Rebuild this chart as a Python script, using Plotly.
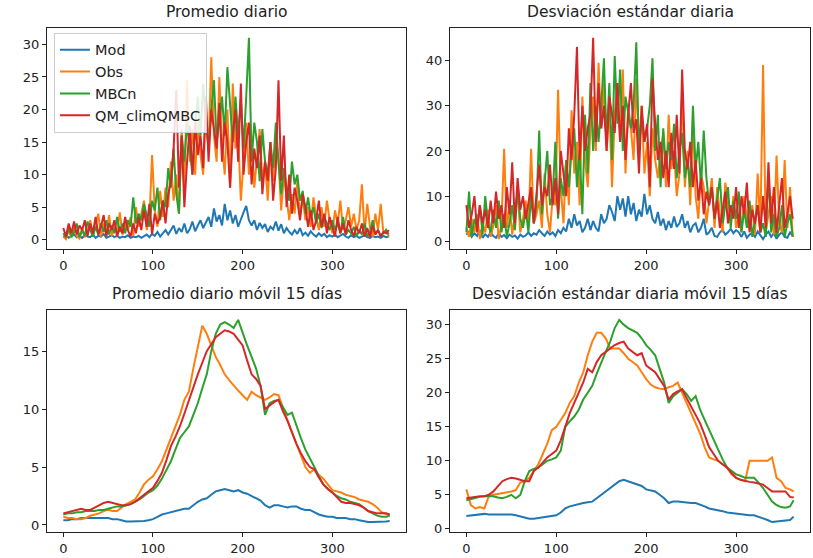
import plotly.graph_objects as go

W, H = 813, 558

# ---------------- data ----------------
series_names = ["Mod", "Obs", "MBCn", "QM_climQMBC"]
colors = ["#1f77b4", "#ff7f0e", "#2ca02c", "#d62728"]
x_ticks = [0, 100, 200, 300]

# top panels: days sampled every 3 days (0..363)
days_top = list(range(0, 364, 3))

mean_mod = [0.4,0.7,0.3,0.5,0.8,0.4,0.6,0.3,0.7,0.5,
            0.4,0.8,0.3,0.6,0.5,0.9,0.3,0.5,0.7,0.4,
            0.6,0.3,0.5,0.4,0.7,0.3,0.5,0.4,0.6,0.3,
            0.5,0.8,0.4,0.9,0.6,1.2,0.5,1.0,1.5,0.8,
            1.4,2.2,0.9,1.8,1.2,2.5,1.0,1.6,2.8,1.3,
            2.2,3.0,1.8,2.6,3.5,2.0,4.8,2.8,3.8,2.2,
            5.5,3.0,4.5,2.5,3.8,2.0,3.2,4.2,5.2,3.0,
            2.2,3.0,1.5,2.6,1.8,2.4,1.2,2.0,1.6,2.8,
            1.4,2.4,1.0,1.8,1.2,0.8,1.5,0.9,1.8,0.7,
            1.1,0.6,1.3,0.8,0.5,1.0,0.6,0.9,0.4,0.7,
            0.5,0.8,0.4,0.6,0.9,0.5,0.3,0.7,0.4,0.6,
            0.3,0.5,0.7,0.4,0.3,0.6,0.4,0.5,0.3,0.6,
            0.4,0.5]
mean_obs = [0.5,0.1,1.5,0.3,2.2,0.6,0.2,1.8,0.4,1.2,
            3.0,0.8,2.2,4.0,0.5,2.5,1.0,3.8,0.6,2.0,
            1.2,4.2,0.8,2.5,1.5,3.5,0.6,5.0,2.0,4.0,
            6.0,1.5,3.0,13.0,4.5,2.0,7.5,3.5,8.0,5.0,
            12.0,6.0,10.0,4.0,17.0,8.0,24.5,12.0,17.0,10.0,
            18.0,13.0,10.0,20.0,14.0,28.0,16.0,12.0,25.0,15.0,
            10.0,20.0,8.0,24.0,14.0,16.0,6.0,12.0,18.0,10.0,
            16.0,8.0,13.0,17.0,9.0,12.0,6.0,14.0,9.0,16.0,
            12.0,4.5,10.0,6.0,3.0,7.0,4.0,9.0,3.5,6.5,
            3.0,5.0,2.0,6.5,3.5,1.5,5.0,2.0,6.0,3.0,
            1.0,4.5,2.5,6.0,1.5,3.0,5.0,2.0,4.0,1.5,
            3.0,8.5,1.0,5.5,2.0,0.5,4.0,1.5,5.5,1.0,
            1.5,0.5]
mean_mbcn = [1.0,0.3,1.8,0.5,1.2,2.5,0.4,1.5,0.6,2.8,
             1.5,0.5,2.0,0.8,2.5,1.2,3.0,0.8,2.2,1.0,
             3.5,1.2,2.5,1.0,3.0,2.0,6.5,2.5,4.0,3.0,
             5.5,3.5,2.0,6.0,4.5,8.0,3.0,6.0,5.0,11.0,
             8.0,14.0,7.0,4.0,16.0,12.0,18.0,14.0,10.0,17.0,
             22.0,16.0,24.0,18.0,14.0,20.0,24.5,15.0,18.0,22.0,
             16.0,26.5,20.0,15.0,22.0,16.0,21.5,14.0,22.0,31.0,
             12.0,18.0,15.0,9.0,17.0,12.0,10.0,15.0,11.0,18.0,
             12.0,7.0,11.0,8.0,6.0,12.0,8.5,10.0,6.0,7.5,
             4.0,6.5,3.5,5.0,2.5,4.0,1.8,3.5,2.5,1.5,
             3.0,1.5,2.5,1.0,3.5,0.8,1.5,1.0,2.0,0.5,
             1.5,0.8,2.5,0.5,1.2,3.0,0.8,1.5,0.6,1.0,
             1.5,0.8]
mean_qm = [1.8,0.5,2.5,1.0,2.8,0.8,2.2,1.5,3.0,0.6,
           2.5,1.0,3.5,0.8,2.0,3.8,0.5,2.5,1.5,3.0,
           0.5,2.0,1.0,3.5,1.5,0.5,2.5,1.0,3.5,1.5,
           4.5,2.0,5.5,0.8,4.0,2.5,3.5,6.0,2.5,7.0,
           9.0,14.0,23.0,8.0,16.0,5.0,12.0,17.5,10.0,18.0,
           13.0,16.0,11.0,22.0,12.0,20.0,17.0,14.0,21.0,12.0,
           18.0,15.0,8.0,16.0,20.0,12.0,24.0,10.0,15.0,18.0,
           8.5,14.0,11.0,16.0,7.0,12.0,9.0,15.0,6.0,11.0,
           24.5,9.0,16.0,5.0,10.0,4.0,8.0,6.0,3.0,7.0,
           5.0,2.0,4.5,1.5,3.0,6.0,2.0,4.0,1.0,3.5,
           2.0,0.5,3.5,1.0,2.5,0.8,3.0,1.5,0.6,2.0,
           1.0,2.5,0.5,1.8,0.4,2.2,0.8,1.5,0.5,1.2,
           1.0,1.5]

std_mod = [1.5,2.2,1.0,1.8,1.2,2.5,0.8,1.6,1.0,2.0,
           1.2,0.8,1.8,1.0,1.4,0.7,1.5,1.0,1.3,0.6,
           1.5,1.0,1.3,2.0,1.2,1.8,1.5,2.5,1.8,1.2,
           2.2,1.5,2.0,1.2,2.5,1.8,3.0,2.2,5.0,3.0,
           6.0,3.5,4.5,2.0,3.0,5.0,2.5,4.5,3.0,2.2,
           6.0,4.0,5.0,8.0,6.5,4.5,10.0,7.0,9.5,5.5,
           10.0,6.0,8.5,4.5,7.0,5.5,10.5,6.0,8.0,5.0,
           4.0,6.5,3.5,5.0,2.5,4.5,3.0,5.5,3.2,4.0,
           6.0,3.0,4.5,2.0,3.5,4.0,2.0,3.0,5.0,1.5,
           2.0,3.0,1.2,1.0,2.0,2.5,1.5,2.0,2.8,1.8,
           2.5,2.0,1.0,2.2,0.8,1.5,1.8,1.0,2.2,1.2,
           0.5,1.5,2.2,1.0,1.8,0.6,1.5,2.0,1.0,0.8,
           2.0,1.2]
std_obs = [3.0,1.0,5.0,2.0,6.0,0.5,4.0,2.0,7.0,1.0,
           3.5,8.0,0.5,4.0,20.5,3.0,8.0,1.5,6.0,11.0,
           2.0,5.0,9.0,3.5,20.5,4.0,6.0,9.0,3.0,15.0,
           6.0,2.0,10.0,8.0,33.5,12.0,4.0,18.0,8.0,29.0,
           15.0,22.0,8.0,32.0,18.0,12.0,25.0,32.0,20.0,39.5,
           25.0,35.0,20.0,30.0,12.0,28.0,35.0,22.0,38.0,15.0,
           30.0,25.0,18.0,36.0,20.0,30.0,15.0,22.0,10.0,25.0,
           18.0,14.0,20.0,24.0,12.0,28.0,16.0,20.0,10.0,15.0,
           33.0,12.0,20.0,8.0,27.0,10.0,5.0,15.0,12.0,4.0,
           9.0,14.0,3.0,12.0,6.0,2.0,13.0,8.0,4.0,10.0,
           3.0,6.0,2.0,10.0,5.0,2.5,8.0,1.5,15.0,3.0,
           39.0,2.0,6.0,10.0,1.5,19.0,4.0,2.0,18.0,3.0,
           12.0,1.0]
std_mbcn = [2.0,11.0,1.0,5.0,3.0,8.0,1.5,10.0,4.0,2.0,
            7.0,3.0,9.0,2.0,6.0,1.0,4.0,8.0,2.5,12.0,
            5.0,3.0,7.0,2.0,10.0,4.0,8.0,24.5,6.0,14.0,
            20.0,8.0,10.0,22.0,5.0,14.0,10.0,18.0,12.0,20.0,
            25.0,12.0,20.0,6.0,28.0,15.0,35.0,20.0,30.0,22.0,
            30.0,40.5,22.0,35.0,18.0,41.0,26.0,38.0,20.0,32.0,
            28.0,25.0,30.0,44.0,20.0,28.0,22.0,25.0,30.0,40.5,
            20.0,28.0,12.0,25.0,16.0,22.0,18.0,26.0,14.0,20.0,
            24.0,14.0,18.0,12.0,30.0,16.0,22.0,12.0,24.5,14.0,
            8.0,12.0,5.0,10.0,14.0,4.0,8.0,12.0,3.0,9.0,
            5.0,11.0,2.0,7.0,3.0,9.0,1.0,5.0,8.0,2.0,
            4.0,1.0,15.0,2.0,6.0,1.0,3.0,8.0,1.0,4.0,
            6.0,1.0]
std_qm = [8.0,3.0,6.0,10.0,2.0,8.0,4.0,7.0,3.0,9.0,
          4.0,11.0,5.0,8.0,3.0,12.0,6.0,17.5,4.0,14.0,
          7.0,10.0,5.0,9.0,12.0,4.0,10.0,17.0,8.0,12.0,
          10.0,17.0,8.0,14.0,6.0,20.0,15.0,10.0,25.0,18.0,
          28.0,43.0,18.0,30.0,20.0,25.0,28.0,45.0,22.0,35.0,
          25.0,30.0,20.0,32.0,28.0,24.0,35.0,22.0,30.0,18.0,
          28.0,35.0,24.0,27.0,15.0,30.0,22.0,26.0,12.0,36.0,
          26.0,18.0,22.0,14.0,20.0,12.0,24.0,16.0,28.0,15.0,
          38.0,20.0,16.0,22.0,12.0,18.0,9.0,14.0,6.0,11.0,
          8.0,12.0,5.0,9.0,3.0,7.0,11.0,4.0,8.0,5.0,
          12.0,3.0,10.0,6.0,13.0,2.0,7.0,4.0,8.0,2.0,
          10.0,3.0,17.5,4.0,12.0,2.0,8.0,14.0,3.0,6.0,
          10.0,5.0]

# bottom panels: days sampled every 5 days plus the last day
days_bot = list(range(0, 361, 5)) + [364]

roll_mean_mod = [0.4,0.4,0.5,0.5,0.6,0.6,0.6,0.6,0.6,0.6,
                 0.6,0.5,0.5,0.4,0.3,0.3,0.3,0.3,0.35,0.4,
                 0.5,0.7,0.9,1.0,1.1,1.2,1.3,1.4,1.4,1.7,
                 2.0,2.2,2.3,2.6,2.9,3.0,3.1,3.0,2.9,3.0,
                 2.8,2.7,2.5,2.3,2.1,1.7,1.5,1.7,1.7,1.6,
                 1.5,1.6,1.6,1.4,1.3,1.3,1.1,0.9,0.8,0.7,
                 0.7,0.6,0.6,0.6,0.5,0.5,0.4,0.3,0.25,0.25,
                 0.25,0.3,0.3,0.35]
roll_mean_obs = [0.7,0.6,0.6,0.5,0.5,0.6,0.8,0.9,1.0,1.2,
                 1.3,1.2,1.2,1.5,1.8,2.0,2.2,2.8,3.5,3.9,
                 4.2,4.8,5.5,6.5,7.5,8.5,9.5,10.8,11.5,13.5,
                 15.5,17.2,16.5,15.5,14.5,13.8,13.0,12.5,12.0,11.6,
                 11.2,10.8,11.5,11.2,11.0,10.8,11.0,11.3,11.2,10.0,
                 9.0,8.0,7.0,6.0,5.0,4.5,4.8,4.3,4.0,3.5,
                 3.0,2.9,2.8,2.6,2.5,2.4,2.2,2.1,2.0,1.8,
                 1.5,1.1,0.9,0.8]
roll_mean_mbcn = [0.9,1.0,1.0,1.1,1.1,1.2,1.2,1.2,1.3,1.3,
                  1.4,1.5,1.6,1.6,1.7,1.8,2.0,2.2,2.5,2.8,
                  3.0,3.4,4.0,4.8,5.5,6.5,7.5,8.0,8.5,9.5,
                  10.5,11.8,13.0,15.0,16.5,17.3,17.5,17.3,17.0,17.7,
                  16.5,15.5,14.5,13.5,12.0,9.5,10.5,10.7,10.8,10.2,
                  9.5,9.7,8.5,7.5,6.5,5.8,5.0,4.2,3.5,3.1,
                  2.8,2.5,2.3,2.2,2.0,1.9,1.8,1.5,1.2,1.0,
                  0.8,0.7,0.7,0.8]
roll_mean_qm = [1.0,1.1,1.2,1.3,1.4,1.3,1.3,1.5,1.7,1.9,
                2.0,1.9,1.8,1.7,1.7,1.8,2.0,2.3,2.6,2.9,
                3.2,3.8,4.5,5.6,6.8,7.6,8.5,9.6,10.8,11.9,
                13.0,14.0,15.0,15.6,16.2,16.5,16.8,16.7,16.5,16.0,
                15.5,14.2,13.0,12.6,12.0,10.0,10.3,10.6,10.8,9.8,
                9.0,8.0,7.0,6.2,5.5,5.0,4.8,4.1,3.5,3.1,
                2.8,2.4,2.0,1.9,1.9,1.8,1.7,1.5,1.2,1.1,
                1.0,1.0,1.0,0.9]

roll_std_mod = [1.9,2.0,2.1,2.2,2.2,2.1,2.1,2.2,2.2,2.2,
                2.1,2.0,1.8,1.6,1.5,1.5,1.6,1.6,1.7,1.9,
                2.0,2.4,3.0,3.3,3.5,3.6,3.8,3.9,4.0,4.5,
                5.0,5.4,6.0,6.5,7.0,7.2,7.0,6.8,6.5,6.3,
                5.8,5.6,5.5,5.0,4.5,3.8,4.0,4.0,3.9,3.9,
                3.8,3.8,3.6,3.3,3.0,2.9,2.8,2.6,2.4,2.3,
                2.2,2.1,2.1,2.0,2.0,1.8,1.6,1.3,1.0,1.1,
                1.2,1.2,1.3,1.8]
roll_std_obs = [5.8,3.5,3.0,3.2,3.0,4.8,5.0,5.1,5.2,5.4,
                5.5,5.7,6.8,7.0,7.5,8.5,9.5,11.0,12.5,14.5,
                15.0,16.0,17.0,18.5,19.5,21.5,23.0,25.5,27.5,28.8,
                28.8,28.0,26.5,26.5,26.5,25.8,25.0,24.5,24.0,23.0,
                22.0,21.2,20.8,20.6,20.5,20.8,21.0,21.5,20.0,18.5,
                17.0,15.5,14.0,12.0,10.5,10.2,10.0,9.5,9.0,8.0,
                7.5,7.2,7.0,10.0,10.0,10.0,10.0,10.0,10.5,7.5,
                7.0,6.0,5.8,5.5]
roll_std_mbcn = [4.2,4.4,4.5,4.7,4.8,4.8,4.8,4.6,4.5,4.7,
                 5.0,4.5,5.0,7.0,8.5,8.8,9.0,9.5,10.0,10.2,
                 10.5,11.5,15.0,15.8,16.5,17.5,19.0,20.0,21.0,22.8,
                 24.5,26.0,27.5,29.5,30.7,30.0,29.5,29.2,28.8,28.0,
                 27.0,26.3,25.5,23.5,21.5,18.5,19.5,20.0,20.5,19.8,
                 18.8,19.5,17.5,16.0,14.5,13.0,11.5,10.2,9.0,8.5,
                 8.0,7.8,7.5,7.5,7.5,6.8,6.0,5.0,4.0,3.5,
                 3.2,3.1,3.3,4.2]
roll_std_qm = [4.5,4.6,4.8,4.8,4.8,5.0,5.5,6.2,7.0,7.3,
               7.5,7.4,7.2,7.0,7.0,8.5,9.0,9.8,10.5,11.0,
               11.5,13.0,15.0,17.0,18.5,20.0,21.5,23.5,23.0,24.5,
               25.5,26.0,26.5,27.0,27.3,27.5,26.5,26.0,25.5,25.8,
               24.0,23.5,23.0,22.0,21.0,19.0,19.8,20.2,20.5,19.2,
               18.0,16.8,15.5,13.8,12.0,11.0,10.0,9.5,9.0,8.2,
               7.5,7.2,7.0,6.9,6.8,6.6,6.5,6.0,5.5,5.5,
               5.5,5.5,4.7,4.6]

titles = ["Promedio diario", "Desviación estándar diaria",
          "Promedio diario móvil 15 días", "Desviación estándar diaria móvil 15 días"]

panels = [
    (days_top, [mean_mod, mean_obs, mean_mbcn, mean_qm], 5),
    (days_top, [std_mod, std_obs, std_mbcn, std_qm], 10),
    (days_bot, [roll_mean_mod, roll_mean_obs, roll_mean_mbcn, roll_mean_qm], 5),
    (days_bot, [roll_std_mod, roll_std_obs, roll_std_mbcn, roll_std_qm], 5),
]

# ---------------- layout (pixel boxes) ----------------
boxes = [  # left, right, top, bottom in pixels
    (47, 406, 28, 251),
    (450, 810, 28, 251),
    (47, 406, 312, 536),
    (450, 810, 312, 536),
]

FONT = "DejaVu Sans"
fig = go.Figure()
annotations = []
for i, ((xs, ys_list, dt), (l, r, t, b), title) in enumerate(zip(panels, boxes, titles)):
    ax = "" if i == 0 else str(i + 1)
    for name, col, ys in zip(series_names, colors, ys_list):
        assert len(ys) == len(xs), (title, name, len(ys), len(xs))
        fig.add_trace(go.Scatter(
            x=xs, y=ys, mode="lines", name=name,
            line=dict(color=col, width=2),
            xaxis="x" + ax, yaxis="y" + ax,
            showlegend=(i == 0),
        ))
    all_y = [v for ys in ys_list for v in ys]
    lo, hi = min(all_y), max(all_y)
    pad = 0.05 * (hi - lo)
    xmin, xmax = 0, 364
    xpad = 0.05 * (xmax - xmin)
    common = dict(showgrid=False, zeroline=False, showline=True, linecolor="#222",
                  linewidth=1, mirror=True, ticks="outside", ticklen=4, tickcolor="#222",
                  tickfont=dict(family=FONT, size=13, color="#222"))
    fig.update_layout(**{
        "xaxis" + ax: dict(domain=[l / W, r / W], range=[xmin - xpad, xmax + xpad],
                           tickvals=x_ticks, anchor="y" + ax, **common),
        "yaxis" + ax: dict(domain=[1 - b / H, 1 - t / H], range=[lo - pad, hi + pad],
                           dtick=dt, tick0=0, anchor="x" + ax, **common),
    })
    annotations.append(dict(text=title, x=(l + r) / 2 / W, y=1 - (t - 5) / H,
                            xref="paper", yref="paper", xanchor="center", yanchor="bottom",
                            showarrow=False, font=dict(family=FONT, size=15.5, color="#222")))

fig.update_layout(
    width=W, height=H, margin=dict(l=0, r=0, t=0, b=0),
    paper_bgcolor="white", plot_bgcolor="white",
    annotations=annotations,
    legend=dict(x=54 / W, y=1 - 33 / H, xanchor="left", yanchor="top",
                bgcolor="rgba(255,255,255,0.85)", bordercolor="#cccccc", borderwidth=1,
                font=dict(family=FONT, size=14.5, color="#222"), itemwidth=30,
                tracegroupgap=0),
    showlegend=True,
)

fig.write_html("out.html")
